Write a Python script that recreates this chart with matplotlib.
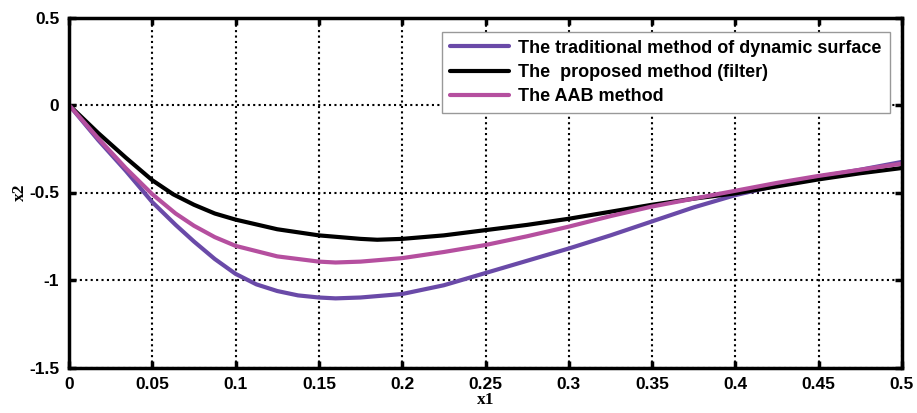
import matplotlib
matplotlib.use("Agg")
import matplotlib.pyplot as plt
import numpy as np

x_trad = [0, 0.0175, 0.034, 0.05, 0.064, 0.075, 0.0875, 0.1, 0.1125, 0.125, 0.1375, 0.15, 0.16,
          0.175, 0.2, 0.225, 0.25, 0.275, 0.3, 0.325, 0.35, 0.375, 0.4, 0.425, 0.45, 0.475, 0.5]
y_trad = [0, -0.20, -0.375, -0.555, -0.685, -0.78, -0.88, -0.965, -1.025, -1.063, -1.088, -1.10, -1.105,
          -1.10, -1.08, -1.03, -0.96, -0.89, -0.82, -0.745, -0.665, -0.585, -0.515, -0.46, -0.41, -0.37, -0.325]

x_prop = [0, 0.0175, 0.034, 0.05, 0.0625, 0.075, 0.0875, 0.1, 0.125, 0.15, 0.175, 0.185, 0.2, 0.225,
          0.25, 0.275, 0.3, 0.325, 0.35, 0.375, 0.4, 0.425, 0.45, 0.475, 0.5]
y_prop = [0, -0.16, -0.30, -0.43, -0.51, -0.57, -0.62, -0.655, -0.71, -0.745, -0.765, -0.77, -0.765, -0.745,
          -0.715, -0.685, -0.65, -0.61, -0.57, -0.535, -0.505, -0.465, -0.425, -0.39, -0.36]

x_aab = [0, 0.0175, 0.034, 0.05, 0.064, 0.075, 0.0875, 0.1, 0.125, 0.15, 0.16, 0.175, 0.2, 0.225,
         0.25, 0.275, 0.3, 0.325, 0.35, 0.375, 0.4, 0.425, 0.45, 0.475, 0.5]
y_aab = [0, -0.19, -0.36, -0.51, -0.62, -0.69, -0.755, -0.805, -0.865, -0.895, -0.90, -0.895, -0.875, -0.84,
         -0.80, -0.75, -0.695, -0.635, -0.58, -0.535, -0.49, -0.445, -0.405, -0.37, -0.335]

labels = ["The traditional method of dynamic surface",
          "The  proposed method (filter)",
          "The AAB method"]
colors = ["#6a4aa8", "#000000", "#b54f9f"]

xticks = [0, 0.05, 0.1, 0.15, 0.2, 0.25, 0.3, 0.35, 0.4, 0.45, 0.5]
xticklabels = ["0", "0.05", "0.1", "0.15", "0.2", "0.25", "0.3", "0.35", "0.4", "0.45", "0.5"]
yticks = [-1.5, -1, -0.5, 0, 0.5]
yticklabels = ["-1.5", "-1", "-0.5", "0", "0.5"]

fig = plt.figure(figsize=(9.17, 4.13), dpi=100)
ax = fig.add_axes([69/917, 1 - 367.5/413, (902 - 69)/917, (367.5 - 17.5)/413])

for xs, ys, c, lab in zip([x_trad, x_prop, x_aab], [y_trad, y_prop, y_aab], colors, labels):
    ax.plot(xs, ys, color=c, lw=3.0, label=lab, solid_capstyle="round", solid_joinstyle="round")

ax.set_xlim(0, 0.5)
ax.set_ylim(-1.5, 0.5)
ax.set_xticks(xticks)
ax.set_xticklabels(xticklabels)
ax.set_yticks(yticks)
ax.set_yticklabels(yticklabels)
ax.grid(True, color="black", linestyle=(0, (1, 1.6)), linewidth=1.5)
ax.tick_params(direction="in", length=5, width=2.5, top=True, right=True,
               labelsize=12.5, pad=7)
for lab in ax.get_xticklabels() + ax.get_yticklabels():
    lab.set_fontfamily("Liberation Sans")
    lab.set_fontweight("bold")
for s in ax.spines.values():
    s.set_linewidth(2.5)

ax.set_xlabel("x1", family="Liberation Serif", fontweight="bold", fontsize=12.5, labelpad=0)
ax.set_ylabel("x2", family="Liberation Serif", fontweight="bold", fontsize=12.5, labelpad=1)

leg = ax.legend(loc="upper right", bbox_to_anchor=(0.9855, 0.96), fancybox=False,
                framealpha=1, edgecolor="#999999", handlelength=3.3, borderaxespad=0,
                prop={"family": "Liberation Sans", "weight": "bold", "size": 13},
                labelspacing=0.4, handletextpad=0.5, borderpad=0.45)
leg.get_frame().set_linewidth(1.0)

fig.savefig("out.png", dpi=100)
